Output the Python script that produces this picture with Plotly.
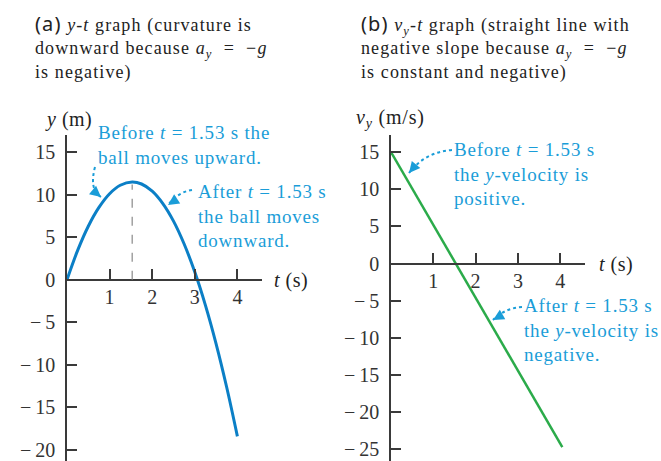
import plotly.graph_objects as go

W, H = 661, 461

# position of the ball vs time (m)
t_pos = [0, 0.25, 0.5, 0.75, 1.0, 1.25, 1.53, 1.75, 2.0, 2.25, 2.5, 2.75, 3.0, 3.25, 3.5, 3.75, 4.0]
y_pos = [0, 3.44, 6.28, 8.49, 10.1, 11.09, 11.48, 11.24, 10.4, 8.94, 6.88, 4.19, 0.9, -3.01, -7.53, -12.66, -18.4]

# y-velocity vs time (m/s)
t_vel = [0, 1.53, 4.05]
v_vel = [15, 0, -24.7]

t_peak = 1.53
y_peak = 11.48

t_ticks = [1, 2, 3, 4]
y_ticks_a = [-20, -15, -10, -5, 0, 5, 10, 15]
y_ticks_b = [-25, -20, -15, -10, -5, 0, 5, 10, 15]

BLUE = "#0b7fc6"
GREEN = "#2bab4a"
NOTE = "#1a9dd8"
AXIS = "#3a3a3a"
INK = "#222222"
SERIF = "Liberation Serif"
SANS = "Noto Sans"
NB = "\u00a0"


def lab(v):
    return ("\u2212\u2009" + str(abs(v))) if v < 0 else str(v)


def px(x):
    return x / W


def py(y):
    return 1 - y / H


fig = go.Figure()
fig.add_trace(go.Scatter(x=t_pos, y=y_pos, mode="lines", line=dict(color=BLUE, width=3, shape="spline"),
                         xaxis="x", yaxis="y", showlegend=False))
fig.add_trace(go.Scatter(x=t_vel, y=v_vel, mode="lines", line=dict(color=GREEN, width=2.5),
                         xaxis="x2", yaxis="y2", showlegend=False))

axis_common = dict(showline=True, linecolor=AXIS, linewidth=1.5, ticks="inside", ticklen=10,
                   tickwidth=1.5, tickcolor=AXIS, showgrid=False, zeroline=False,
                   tickfont=dict(family=SERIF, size=20, color="#333333"))

# panel geometry: origin pixel and px-per-unit scale
ax0, ay0, sx_a, sy_a = 67, 279.7, 42.6, 8.514
bx0, by0, sx_b, sy_b = 391, 263.5, 42.3, 7.43
top, bottom = 135, 461

fig.update_layout(
    width=W, height=H, margin=dict(l=0, r=0, t=0, b=0),
    paper_bgcolor="white", plot_bgcolor="white",
    xaxis=dict(domain=[px(ax0), px(262)], range=[0, (262 - ax0) / sx_a], anchor="free",
               position=py(ay0), tickvals=t_ticks, ticktext=[lab(v) for v in t_ticks], **axis_common),
    yaxis=dict(domain=[0, py(top)], range=[(ay0 - bottom) / sy_a, (ay0 - top) / sy_a], anchor="x",
               tickvals=y_ticks_a, ticktext=[lab(v) for v in y_ticks_a], ticklabelstandoff=6, **axis_common),
    xaxis2=dict(domain=[px(bx0), px(585)], range=[0, (585 - bx0) / sx_b], anchor="free",
                position=py(by0), tickvals=t_ticks, ticktext=[lab(v) for v in t_ticks], **axis_common),
    yaxis2=dict(domain=[0, py(top)], range=[(by0 - bottom) / sy_b, (by0 - top) / sy_b], anchor="x2",
                tickvals=y_ticks_b, ticktext=[lab(v) for v in y_ticks_b], ticklabelstandoff=6, **axis_common),
)

# dashed marker at the top of the trajectory
fig.add_shape(type="line", xref="x", yref="y", x0=t_peak, x1=t_peak, y0=0, y1=y_peak - 0.3,
              line=dict(color="#8a8a8a", width=1.2, dash="dash"))


def note(x, y, lines, color=NOTE, size=19, spacing=0.8):
    body = "<br>".join(f"<span style='letter-spacing:{spacing}px'>{ln}</span>" for ln in lines)
    fig.add_annotation(xref="paper", yref="paper", x=px(x), y=py(y), text=body, showarrow=False,
                       xanchor="left", yanchor="top", align="left",
                       font=dict(family=SERIF, size=size, color=color))


def curved_arrow(p0, c, p1, back):
    path = f"M {px(p0[0])},{py(p0[1])} Q {px(c[0])},{py(c[1])} {px(p1[0])},{py(p1[1])}"
    fig.add_shape(type="path", xref="paper", yref="paper", path=path,
                  line=dict(color=NOTE, width=2, dash="dot"))
    fig.add_annotation(xref="paper", yref="paper", x=px(p1[0]), y=py(p1[1]), text="",
                       showarrow=True, ax=back[0], ay=back[1], arrowhead=2, arrowsize=1.1,
                       arrowwidth=2, arrowcolor=NOTE)


# panel titles
a_y = "<i>a</i><sub><i>y</i></sub>"
eq_g = f"{NB} = {NB}\u2212<i>g</i>"
tag = f"<span style='font-family:{SANS};font-size:20px'>"
note(33, 8, [f"{tag}(a)</span> <i>y</i>-<i>t</i> graph (curvature is",
             f"downward because {a_y}{eq_g}",
             "is negative)"], color=INK, size=18, spacing=1.1)
note(359, 8, [f"{tag}(b)</span> <i>v</i><sub><i>y</i></sub>-<i>t</i> graph (straight line with",
              f"negative slope because {a_y}{eq_g}",
              "is constant and negative)"], color=INK, size=18, spacing=1.1)

# axis titles
note(43, 106, ["<i>y</i> (m)"], color=INK, size=20, spacing=0.5)
note(272, 267, ["<i>t</i> (s)"], color=INK, size=20, spacing=0.5)
note(354, 104, ["<i>v</i><sub><i>y</i></sub> (m/s)"], color=INK, size=20, spacing=0.8)
note(597, 251, ["<i>t</i> (s)"], color=INK, size=20, spacing=0.5)

# callouts
eq = " = "
note(96, 120, [f"Before <i>t</i>{eq}1.53 s the", "ball moves upward."])
note(196, 179, [f"After <i>t</i>{eq}1.53 s", "the ball moves", "downward."])
note(452, 137, [f"Before <i>t</i>{eq}1.53 s", "the <i>y</i>-velocity is", "positive."])
note(522, 293, [f"After <i>t</i>{eq}1.53 s", "the <i>y</i>-velocity is", "negative."])

curved_arrow((95, 167), (89, 190), (101, 197), (-6, -5))
curved_arrow((192, 190), (178, 192), (168, 205), (6, -4))
curved_arrow((452, 150), (425, 152), (409, 173), (5, -6))
curved_arrow((522, 307), (505, 308), (493, 320), (7, -4))

fig.write_html("out.html")
